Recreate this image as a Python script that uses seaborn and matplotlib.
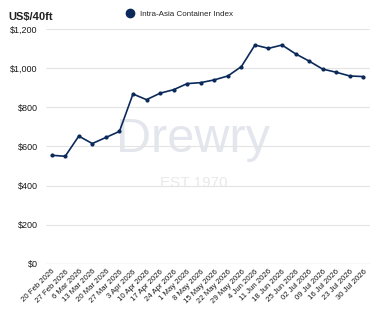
import matplotlib
matplotlib.use("Agg")
import matplotlib.pyplot as plt
import seaborn as sns
import pandas as pd
from matplotlib.lines import Line2D
from matplotlib.ticker import FuncFormatter

# Weekly Intra-Asia container index (US$/40ft)
dates = ["20 Feb 2026", "27 Feb 2026", "6 Mar 2026", "13 Mar 2026", "20 Mar 2026",
         "27 Mar 2026", "3 Apr 2026", "10 Apr 2026", "17 Apr 2026", "24 Apr 2026",
         "1 May 2026", "8 May 2026", "15 May 2026", "22 May 2026", "29 May 2026",
         "4 Jun 2026", "11 Jun 2026", "18 Jun 2026", "25 Jun 2026", "02 Jul 2026",
         "09 Jul 2026", "16 Jul 2026", "23 Jul 2026", "30 Jul 2026"]
index_values = [555, 550, 653, 615, 646, 677, 868, 839, 872, 890,
                921, 926, 940, 960, 1008, 1118, 1101, 1118, 1073, 1036,
                995, 979, 960, 957]
y_ticks = [0, 200, 400, 600, 800, 1000, 1200]

navy = "#0b2a5b"

sns.set_theme(style="white")
plt.rcParams['font.family'] = ['Liberation Sans Narrow', 'Liberation Sans', 'DejaVu Sans']

df = pd.DataFrame({"pos": range(len(dates)), "value": index_values})

fig = plt.figure(figsize=(3.8, 3.15), dpi=100)
ax = fig.add_axes([0.121, 0.162, 0.853, 0.746])

# watermark, drawn behind the axes
fig.text(0.508, 0.517, "Drewry", fontsize=35, color="#e3e6ec", ha="center",
         va="baseline", family=["Liberation Sans", "DejaVu Sans"], zorder=0)
fig.text(0.51, 0.418, "EST 1970", fontsize=11, color="#e9e9eb", ha="center",
         va="center", family=["Liberation Sans", "DejaVu Sans"], zorder=0)
ax.set_zorder(1)
ax.patch.set_alpha(0)

sns.lineplot(data=df, x="pos", y="value", ax=ax, color=navy, linewidth=1.2,
             marker="o", markersize=3, markeredgewidth=0, zorder=3)

ax.set_ylim(0, 1200)
ax.set_xlim(-0.42, 23.5)
ax.set_yticks(y_ticks)
ax.yaxis.set_major_formatter(FuncFormatter(lambda v, p: f"${v:,.0f}"))
ax.set_xticks(range(len(dates)))
ax.set_xticklabels(dates, rotation=45, ha="right", rotation_mode="anchor",
                   fontsize=5.6, color="#1a1a1a")
ax.tick_params(axis="y", labelsize=6.5, colors="#1a1a1a", length=0, pad=6)
ax.tick_params(axis="x", length=0, pad=3)
ax.grid(axis="y", color="#e4e4e4", linewidth=0.8)
ax.set_axisbelow(True)
for s in ax.spines.values():
    s.set_visible(False)
ax.axhline(0, color="#cfcfcf", linewidth=0.9, zorder=1)
ax.set_xlabel("")
ax.set_ylabel("")

fig.text(0.022, 0.945, "US$/40ft", fontsize=8, fontweight="bold",
         color="#222222", va="center")

handle = Line2D([], [], color=navy, marker="o", linestyle="none", markersize=6)
fig.legend([handle], ["Intra-Asia Container Index"], loc="center left",
           bbox_to_anchor=(0.322, 0.955), frameon=False, fontsize=5.8,
           handletextpad=0.2, borderaxespad=0, borderpad=0)

fig.savefig("out.png", dpi=100)
